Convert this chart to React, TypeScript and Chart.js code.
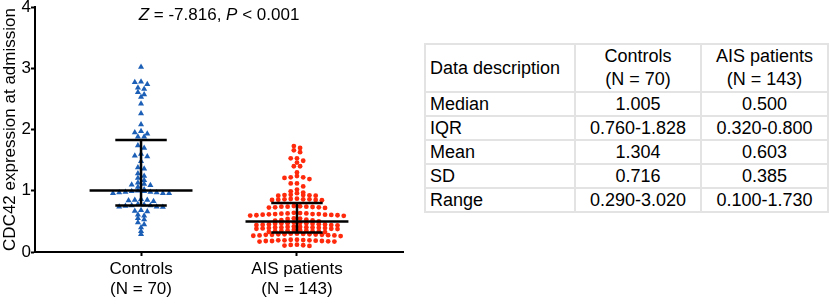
import React, { useEffect, useRef } from "react";
import { Chart, registerables } from "chart.js";

Chart.register(...registerables);

const FONT = '"Liberation Sans", Arial, sans-serif';

// ---- data ----
const GROUPS = ["Controls", "AIS patients"];
const GROUP_N = ["(N = 70)", "(N = 143)"];
const GROUP_POS = [1, 2];

const CONTROLS = [
  3.02,
  2.78, 2.77, 2.74,
  2.68, 2.66,
  2.61, 2.57,
  2.53, 2.42, 2.26, 2.08,
  1.97, 1.95, 1.93,
  1.88, 1.88,
  1.74, 1.7,
  1.6, 1.57, 1.56,
  1.48,
  1.38, 1.36,
  1.28, 1.24,
  1.21, 1.17,
  1.13, 1.11, 1.1, 1.09,
  1.06, 1.02,
  1.0, 0.99, 0.99, 0.98, 0.98, 0.97, 0.97, 0.96, 0.96, 0.96,
  0.86, 0.85, 0.85, 0.84, 0.83,
  0.78, 0.77, 0.76, 0.76, 0.75, 0.74, 0.74, 0.735,
  0.68, 0.67, 0.66,
  0.61, 0.59,
  0.55, 0.53,
  0.48, 0.45,
  0.4, 0.34, 0.29,
];

const AIS = [
  1.73, 1.7, 1.66, 1.63, 1.53, 1.53, 1.49, 1.46, 1.4, 1.4,
  1.3, 1.24, 1.22, 1.22, 1.21, 1.19, 1.12, 1.12, 1.07, 1.02,
  0.99, 0.97, 0.96,
  0.935, 0.93, 0.93, 0.925, 0.92, 0.92,
  0.87, 0.865, 0.86, 0.86, 0.86, 0.855, 0.85, 0.85, 0.845,
  0.75, 0.745, 0.74, 0.74, 0.74, 0.735, 0.73, 0.73, 0.725, 0.72,
  0.64, 0.635, 0.63, 0.63, 0.625, 0.62, 0.62, 0.62, 0.615, 0.61, 0.61, 0.605, 0.6, 0.6, 0.595, 0.59,
  0.55, 0.545, 0.54, 0.53, 0.52, 0.515, 0.51, 0.5,
  0.48, 0.475, 0.47, 0.47, 0.465, 0.46, 0.46, 0.455, 0.45, 0.45, 0.445, 0.44, 0.44, 0.435,
  0.415, 0.41, 0.41, 0.405, 0.4, 0.4, 0.4, 0.395, 0.39, 0.39, 0.385, 0.38, 0.38, 0.375,
  0.36, 0.355, 0.35, 0.35, 0.345, 0.34, 0.34, 0.335, 0.33, 0.325,
  0.3, 0.3, 0.295, 0.29, 0.29, 0.29, 0.285, 0.28, 0.28, 0.28, 0.275, 0.27, 0.27, 0.265, 0.26,
  0.2, 0.2, 0.195, 0.19, 0.19, 0.19, 0.185, 0.18, 0.18, 0.18, 0.175, 0.17, 0.17,
  0.12, 0.115, 0.11, 0.105, 0.1,
];

const MEDIANS = [1.005, 0.5];
const Q1S = [0.76, 0.32];
const Q3S = [1.828, 0.8];

const Y_TITLE = "CDC42 expression at admission";
const STAT_PARTS: [string, boolean][] = [
  ["Z", true],
  [" = -7.816, ", false],
  ["P", true],
  [" < 0.001", false],
];

const TABLE_HEAD = "Data description";
const TABLE_ROWS = [
  ["Median", "1.005", "0.500"],
  ["IQR", "0.760-1.828", "0.320-0.800"],
  ["Mean", "1.304", "0.603"],
  ["SD", "0.716", "0.385"],
  ["Range", "0.290-3.020", "0.100-1.730"],
];

const BLUE = "#1c5fb6";
const RED = "#ff2a0c";

// Prism-like scatter dot layout: values binned into rows, row spread around center
function swarm(values: number[], center: number, step: number, binH: number) {
  const sorted = [...values].sort((a, b) => b - a);
  const rows: number[][] = [];
  let cur: number[] = [];
  let start = Infinity;
  for (const v of sorted) {
    if (cur.length && start - v < binH - 1e-9) cur.push(v);
    else {
      if (cur.length) rows.push(cur);
      cur = [v];
      start = v;
    }
  }
  if (cur.length) rows.push(cur);
  const pts: { x: number; y: number }[] = [];
  for (const row of rows) {
    const n = row.length;
    const offs = Array.from({ length: n }, (_, i) => i - (n - 1) / 2);
    offs.sort((a, b) => Math.abs(a) - Math.abs(b) || a - b);
    row.forEach((v, i) => pts.push({ x: center + offs[i] * step, y: v }));
  }
  return pts;
}

const statPlugin = {
  id: "statText",
  afterDraw(chart: any) {
    const { ctx, chartArea } = chart;
    ctx.save();
    ctx.fillStyle = "#000";
    ctx.textBaseline = "alphabetic";
    ctx.textAlign = "left";
    const fonts = STAT_PARTS.map(([, it]) => `${it ? "italic " : ""}17px ${FONT}`);
    const widths = STAT_PARTS.map(([t], i) => {
      ctx.font = fonts[i];
      return ctx.measureText(t).width;
    });
    const total = widths.reduce((a, b) => a + b, 0);
    let x = (chartArea.left + chartArea.right) / 2 - total / 2;
    STAT_PARTS.forEach(([t], i) => {
      ctx.font = fonts[i];
      ctx.fillText(t, x, 19.5);
      x += widths[i];
    });
    ctx.restore();
  },
};

function lineDs(points: { x: number; y: number }[]) {
  return {
    data: points,
    showLine: true,
    pointRadius: 0,
    borderColor: "#000",
    borderWidth: 2.5,
    borderCapStyle: "butt",
    order: 1,
  };
}

function ChartPanel() {
  const ref = useRef<HTMLCanvasElement | null>(null);
  useEffect(() => {
    if (!ref.current) return;
    const datasets: any[] = [];
    GROUP_POS.forEach((c, i) => {
      datasets.push(lineDs([{ x: c - 0.33, y: MEDIANS[i] }, { x: c + 0.33, y: MEDIANS[i] }]));
      datasets.push(lineDs([{ x: c - 0.165, y: Q1S[i] }, { x: c + 0.165, y: Q1S[i] }]));
      datasets.push(lineDs([{ x: c - 0.165, y: Q3S[i] }, { x: c + 0.165, y: Q3S[i] }]));
      datasets.push(lineDs([{ x: c, y: Q1S[i] }, { x: c, y: Q3S[i] }]));
    });
    datasets.push({
      data: swarm(CONTROLS, GROUP_POS[0], 0.04, 0.05),
      pointStyle: "triangle",
      pointRadius: 3.5,
      backgroundColor: BLUE,
      borderWidth: 0,
      order: 2,
    });
    datasets.push({
      data: swarm(AIS, GROUP_POS[1], 0.04, 0.052),
      pointStyle: "circle",
      pointRadius: 2.4,
      backgroundColor: RED,
      borderWidth: 0,
      order: 2,
    });

    const tickGrid = {
      display: true,
      drawOnChartArea: false,
      drawTicks: true,
      tickLength: 4,
      tickWidth: 2,
      tickColor: "#000",
    };
    const chart = new Chart(ref.current, {
      type: "scatter",
      data: { datasets },
      options: {
        animation: false,
        responsive: false,
        devicePixelRatio: 1,
        layout: { padding: { left: 0, right: 12, top: 7, bottom: 0 } },
        plugins: {
          legend: { display: false },
          tooltip: { enabled: false },
        },
        scales: {
          x: {
            type: "linear",
            min: 0.32,
            max: 2.68,
            afterFit: (s: any) => {
              s.height = 46;
            },
            afterBuildTicks: (s: any) => {
              s.ticks = GROUP_POS.map((v) => ({ value: v }));
            },
            ticks: {
              autoSkip: false,
              maxRotation: 0,
              padding: 3,
              color: "#000",
              font: { family: FONT, size: 17, lineHeight: 1.2 },
              callback: (_v: any, i: number) => [GROUPS[i], GROUP_N[i]],
            },
            grid: tickGrid,
            border: { display: true, color: "#000", width: 2 },
          },
          y: {
            min: 0,
            max: 4,
            afterFit: (s: any) => {
              s.width = 35;
            },
            ticks: {
              stepSize: 1,
              padding: 0,
              color: "#000",
              font: { family: FONT, size: 17, lineHeight: 0.8 },
            },
            title: {
              display: true,
              text: Y_TITLE,
              color: "#000",
              padding: { top: 0, bottom: 0 },
              font: { family: FONT, size: 17, lineHeight: 1.2 },
            },
            grid: tickGrid,
            border: { display: true, color: "#000", width: 2 },
          },
        },
      } as any,
      plugins: [statPlugin],
    });
    return () => chart.destroy();
  }, []);
  return (
    <canvas
      ref={ref}
      width={415}
      height={298}
      style={{ position: "absolute", left: 0, top: 0, width: 415, height: 298, display: "block" }}
    />
  );
}

function StatsTable() {
  const border = "2px solid #e3e3e3";
  const cell: React.CSSProperties = {
    border,
    padding: 0,
    verticalAlign: "middle",
    whiteSpace: "nowrap",
    lineHeight: "22px",
  };
  return (
    <table
      style={{
        position: "absolute",
        left: 424,
        top: 43,
        width: 403,
        borderCollapse: "collapse",
        tableLayout: "fixed",
        fontFamily: FONT,
        fontSize: 18,
        color: "#000",
      }}
    >
      <colgroup>
        <col style={{ width: 150 }} />
        <col style={{ width: 126 }} />
        <col style={{ width: 127 }} />
      </colgroup>
      <tbody>
        <tr style={{ height: 48 }}>
          <td style={{ ...cell, textAlign: "left", paddingLeft: 4 }}>{TABLE_HEAD}</td>
          {GROUPS.map((g, i) => (
            <td key={g} style={{ ...cell, textAlign: "center", lineHeight: "23px" }}>
              {g}
              <br />
              {GROUP_N[i]}
            </td>
          ))}
        </tr>
        {TABLE_ROWS.map((r) => (
          <tr key={r[0]} style={{ height: 23.5 }}>
            <td style={{ ...cell, textAlign: "left", paddingLeft: 4 }}>{r[0]}</td>
            <td style={{ ...cell, textAlign: "center" }}>{r[1]}</td>
            <td style={{ ...cell, textAlign: "center" }}>{r[2]}</td>
          </tr>
        ))}
      </tbody>
    </table>
  );
}

export default function App() {
  return (
    <div
      style={{
        position: "absolute",
        left: 0,
        top: 0,
        width: 829,
        height: 298,
        background: "#fff",
        overflow: "hidden",
      }}
    >
      <ChartPanel />
      <StatsTable />
    </div>
  );
}
